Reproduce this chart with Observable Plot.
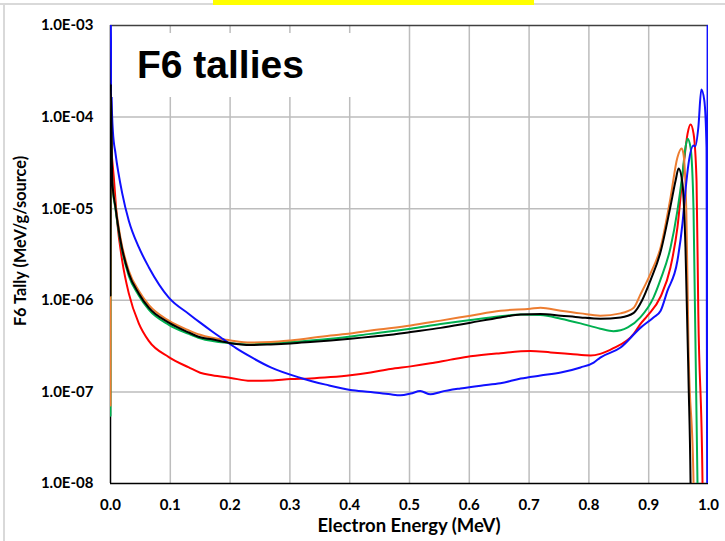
<!DOCTYPE html>
<html>
<head>
<meta charset="utf-8">
<script src="https://cdn.jsdelivr.net/npm/d3@7"></script>
<script src="https://cdn.jsdelivr.net/npm/@observablehq/plot@0.6"></script>
<style>
  html, body { margin: 0; padding: 0; background: #fff; }
  #wrap { position: relative; width: 725px; height: 541px; overflow: hidden; background: #fff; }
  #wrap svg text { font-weight: bold; }
  .deco { position: absolute; }
  #title { position: absolute; left: 112px; top: 33px; width: 268px; height: 64px; background: #fff;
           font-family: "Liberation Sans", Arial, sans-serif; font-weight: bold; font-size: 39px; line-height: 64px;
           padding-left: 25px; box-sizing: border-box; color: #000; }
  #xlabel { position: absolute; left: 0; width: 818px; top: 514px; text-align: center;
            font-family: Lato, "Open Sans", sans-serif; font-weight: bold; font-size: 18.5px; color: #000; }
  #ylabel { position: absolute; left: 19px; top: 241px; transform: translate(-50%, -50%) rotate(-90deg);
            white-space: nowrap; font-family: Lato, "Open Sans", sans-serif; font-weight: bold; font-size: 16.3px; color: #000; }
</style>
</head>
<body>
<div id="wrap">
  <div class="deco" style="left:0;top:3px;width:725px;height:2px;background:#d9d9d9"></div>
  <div class="deco" style="left:3px;top:3px;width:2px;height:541px;background:#d9d9d9"></div>
  <div class="deco" style="left:213px;top:0;width:321px;height:5px;background:#ffff00"></div>
  <div id="chart"></div>
  <div id="title">F6 tallies</div>
  <div id="xlabel">Electron Energy (MeV)</div>
  <div id="ylabel">F6 Tally (MeV/g/source)</div>
</div>
<script>
// ---- tick values ----
const xTicks = [0, 0.1, 0.2, 0.3, 0.4, 0.5, 0.6, 0.7, 0.8, 0.9, 1.0];
const yTicks = [1e-8, 1e-7, 1e-6, 1e-5, 1e-4, 1e-3];

// ---- series (energy in MeV, tally in MeV/g/source) ----
const blueE = [0, 0.002, 0.004, 0.0084, 0.0196, 0.0306, 0.0473, 0.064, 0.0975, 0.131, 0.150, 0.170, 0.189, 0.210, 0.234, 0.268, 0.318, 0.360, 0.401, 0.435, 0.468, 0.485, 0.502, 0.518, 0.535, 0.552, 0.585, 0.619, 0.652, 0.686, 0.719, 0.753, 0.786, 0.808, 0.819, 0.853, 0.886, 0.908, 0.920, 0.931, 0.948, 0.9565, 0.9615, 0.9666, 0.975, 0.978, 0.983, 0.988, 0.993, 0.9967, 0.998, 0.9985];
const blueV = [2e-3, 1.5e-4, 7e-5, 4.0e-5, 1.47e-5, 7.4e-6, 3.8e-6, 2.3e-6, 1.07e-6, 7.1e-7, 5.7e-7, 4.57e-7, 3.74e-7, 3.0e-7, 2.42e-7, 1.85e-7, 1.42e-7, 1.2e-7, 1.05e-7, 1.0e-7, 9.4e-8, 9.2e-8, 9.6e-8, 1.02e-7, 9.4e-8, 1.0e-7, 1.09e-7, 1.17e-7, 1.24e-7, 1.4e-7, 1.51e-7, 1.63e-7, 1.85e-7, 2.09e-7, 2.37e-7, 3.05e-7, 5.0e-7, 6.5e-7, 7.7e-7, 1.25e-6, 2.7e-6, 6.9e-6, 1.58e-5, 3.11e-5, 4.9e-5, 4.78e-5, 7.7e-5, 2.0e-4, 1.52e-4, 4.66e-5, 1e-9, 2e-3];

const blackE = [0, 0.0005, 0.003, 0.0084, 0.0167, 0.0306, 0.0473, 0.064, 0.0975, 0.131, 0.150, 0.170, 0.201, 0.234, 0.268, 0.301, 0.334, 0.368, 0.401, 0.435, 0.469, 0.502, 0.552, 0.602, 0.652, 0.686, 0.719, 0.753, 0.786, 0.819, 0.853, 0.875, 0.889, 0.903, 0.920, 0.936, 0.945, 0.950, 0.9565, 0.9615, 0.9666, 0.970, 0.9715];
const blackV = [1.13e-6, 2.3e-4, 2.0e-5, 1.03e-5, 4.5e-6, 1.96e-6, 1.19e-6, 8.3e-7, 5.7e-7, 4.45e-7, 3.95e-7, 3.75e-7, 3.4e-7, 3.25e-7, 3.3e-7, 3.38e-7, 3.5e-7, 3.64e-7, 3.8e-7, 4.0e-7, 4.2e-7, 4.5e-7, 5.0e-7, 5.7e-7, 6.5e-7, 7.0e-7, 7.1e-7, 6.8e-7, 6.5e-7, 6.3e-7, 6.5e-7, 7.3e-7, 1.0e-6, 1.65e-6, 3.4e-6, 1.03e-5, 2.03e-5, 2.75e-5, 1.88e-5, 3.77e-6, 1.33e-7, 1e-8, 1e-9];

const orangeE = [0, 0.0005, 0.003, 0.0084, 0.0167, 0.0306, 0.0473, 0.064, 0.0975, 0.131, 0.150, 0.201, 0.234, 0.268, 0.301, 0.368, 0.401, 0.435, 0.502, 0.552, 0.602, 0.652, 0.702, 0.719, 0.753, 0.786, 0.819, 0.853, 0.875, 0.886, 0.903, 0.920, 0.9365, 0.948, 0.955, 0.958, 0.963, 0.9666, 0.975, 0.976];
const orangeV = [7.1e-8, 2.0e-4, 2.1e-5, 1.1e-5, 4.8e-6, 2.1e-6, 1.27e-6, 8.9e-7, 6.0e-7, 4.7e-7, 4.2e-7, 3.64e-7, 3.46e-7, 3.5e-7, 3.64e-7, 4.13e-7, 4.34e-7, 4.68e-7, 5.31e-7, 6.0e-7, 6.8e-7, 7.7e-7, 8.1e-7, 8.3e-7, 7.7e-7, 7.2e-7, 6.8e-7, 7.2e-7, 8.3e-7, 1.15e-6, 1.96e-6, 3.8e-6, 1.32e-5, 3.62e-5, 4.54e-5, 4.0e-5, 8.87e-6, 3.05e-7, 1e-8, 1e-9];

const greenE = [0, 0.0005, 0.003, 0.0084, 0.0167, 0.0306, 0.0473, 0.064, 0.0975, 0.131, 0.150, 0.201, 0.234, 0.301, 0.368, 0.435, 0.502, 0.552, 0.602, 0.652, 0.686, 0.719, 0.753, 0.786, 0.819, 0.841, 0.853, 0.865, 0.886, 0.908, 0.920, 0.9365, 0.948, 0.9565, 0.9615, 0.965, 0.970, 0.975, 0.9816, 0.983];
const greenV = [5.5e-8, 1.5e-4, 1.9e-5, 9.8e-6, 4.3e-6, 1.85e-6, 1.13e-6, 7.9e-7, 5.4e-7, 4.3e-7, 3.85e-7, 3.4e-7, 3.3e-7, 3.5e-7, 3.8e-7, 4.3e-7, 4.9e-7, 5.5e-7, 6.1e-7, 6.7e-7, 7.0e-7, 6.9e-7, 6.3e-7, 5.6e-7, 4.9e-7, 4.6e-7, 4.7e-7, 5.05e-7, 6.5e-7, 1.07e-6, 1.7e-6, 3.77e-6, 9.55e-6, 2.42e-5, 4.66e-5, 5.8e-5, 4.66e-5, 9.55e-6, 1e-8, 1e-9];

const redE = [0.0005, 0.0055, 0.011, 0.0196, 0.0306, 0.0473, 0.064, 0.0975, 0.131, 0.150, 0.170, 0.201, 0.234, 0.268, 0.301, 0.334, 0.368, 0.401, 0.435, 0.468, 0.502, 0.535, 0.569, 0.602, 0.652, 0.702, 0.736, 0.769, 0.803, 0.819, 0.841, 0.875, 0.886, 0.898, 0.920, 0.9365, 0.948, 0.958, 0.965, 0.970, 0.975, 0.980, 0.983, 0.990, 0.991];
const redV = [5e-5, 2.2e-5, 7.4e-6, 2.7e-6, 1.19e-6, 5.6e-7, 3.6e-7, 2.4e-7, 1.85e-7, 1.62e-7, 1.52e-7, 1.42e-7, 1.32e-7, 1.33e-7, 1.38e-7, 1.4e-7, 1.45e-7, 1.52e-7, 1.63e-7, 1.78e-7, 1.9e-7, 2.05e-7, 2.25e-7, 2.45e-7, 2.65e-7, 2.8e-7, 2.7e-7, 2.6e-7, 2.5e-7, 2.6e-7, 3.0e-7, 4.3e-7, 5.5e-7, 6.8e-7, 1.1e-6, 2.3e-6, 6.2e-6, 2.8e-5, 6.6e-5, 8.3e-5, 6.6e-5, 2.0e-5, 7e-7, 1e-8, 1e-9];

// draw order: first drawn is at the bottom
const seriesNames = ["red", "green", "orange", "blue", "black"];
const seriesColors = ["#ff0000", "#00b050", "#ed7d31", "#1010ff", "#000000"];
const seriesE = [redE, greenE, orangeE, blueE, blackE];
const seriesV = [redV, greenV, orangeV, blueV, blackV];

const table = (E, V) => E.map((e, i) => ({e, v: V[i]}));

const yFmt = d => "1.0E-" + String(Math.round(-Math.log10(d))).padStart(2, "0");

const marks = [
  Plot.gridX(xTicks.slice(1, -1), {stroke: "#bdbdbd", strokeOpacity: 1, strokeWidth: 1.5}),
  Plot.gridY(yTicks.slice(1, -1), {stroke: "#bdbdbd", strokeOpacity: 1, strokeWidth: 1.5}),
  Plot.ruleY([yTicks[yTicks.length - 1]], {stroke: "#404040", strokeWidth: 1.5}),
  Plot.ruleY([yTicks[0]], {stroke: "#000", strokeWidth: 1.5}),
  Plot.ruleX([xTicks[0]], {stroke: "#000", strokeWidth: 1.5}),
  Plot.axisX({ticks: xTicks, tickFormat: d => d.toFixed(1), tickSize: 0, tickPadding: 16, label: null}),
  Plot.axisY({ticks: yTicks, tickFormat: yFmt, tickSize: 0, tickPadding: 17, label: null})
];
seriesNames.forEach((name, i) => {
  marks.push(Plot.line(table(seriesE[i], seriesV[i]), {
    x: "e", y: "v", stroke: seriesColors[i], strokeWidth: 2, curve: "monotone-x", clip: true
  }));
});

const chart = Plot.plot({
  width: 725,
  height: 541,
  marginTop: 25,
  marginBottom: 58,
  marginLeft: 110,
  marginRight: 17,
  style: {fontFamily: "Lato, 'Open Sans', sans-serif", fontSize: "15px", color: "#000", background: "transparent"},
  x: {domain: [0, 1]},
  y: {type: "log", domain: [1e-8, 1e-3]},
  marks
});
document.getElementById("chart").appendChild(chart);
</script>
</body>
</html>
